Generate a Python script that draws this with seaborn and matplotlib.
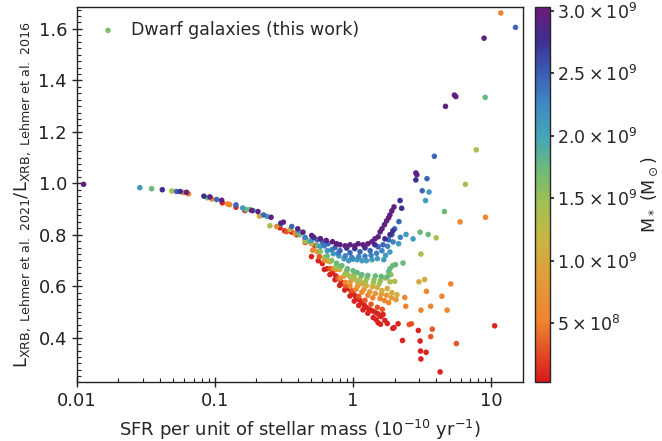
import numpy as np
import pandas as pd
import matplotlib
matplotlib.use('Agg')
import matplotlib.pyplot as plt
import seaborn as sns
from matplotlib.colors import LinearSegmentedColormap, Normalize
from matplotlib.ticker import MultipleLocator, FuncFormatter

# sSFR (1e-10 / yr), L_XRB ratio (2021 / 2016), stellar mass per colour group
purple_x = [0.0112, 0.0623, 0.092, 0.112, 0.185, 0.205, 0.255, 0.313, 0.398, 0.434,
            0.502, 0.58, 0.64, 0.71, 0.76, 0.805, 0.877, 0.951, 1.03, 1.09,
            1.18, 1.28, 1.37, 1.44, 1.52, 1.57, 1.62, 1.69, 1.75, 1.81,
            1.85, 1.91, 1.98, 2.85, 2.90, 4.67, 5.42, 5.55, 8.89]
purple_y = [0.996, 0.965, 0.947, 0.934, 0.894, 0.890, 0.868, 0.849, 0.823, 0.810,
            0.797, 0.785, 0.778, 0.773, 0.765, 0.761, 0.757, 0.761, 0.757, 0.765,
            0.761, 0.765, 0.773, 0.784, 0.792, 0.811, 0.823, 0.839, 0.854, 0.866,
            0.877, 0.893, 0.908, 1.040, 1.033, 1.299, 1.343, 1.337, 1.564]

indigo_x = [0.0416, 0.0561, 0.0832, 0.30, 0.52, 0.90, 1.03, 1.22, 1.44, 1.70, 1.85, 1.94, 2.19, 2.25, 2.85]
indigo_y = [0.975, 0.968, 0.950, 0.845, 0.790, 0.748, 0.746, 0.749, 0.761, 0.784, 0.800, 0.815, 0.933, 0.903, 1.013]

blue_x = [0.0528, 0.103, 0.142, 0.225, 0.36, 0.55, 0.60, 0.66, 0.74, 0.805,
          0.951, 1.124, 1.33, 1.52, 1.65, 1.81, 1.91, 2.00, 2.15, 3.17,
          3.43, 3.88, 15.0]
blue_y = [0.968, 0.937, 0.916, 0.877, 0.832, 0.780, 0.773, 0.765, 0.750, 0.738,
          0.730, 0.734, 0.738, 0.753, 0.761, 0.780, 0.800, 0.823, 0.851, 0.971,
          1.018, 1.105, 1.606]

cblue_x = [0.45, 0.62, 0.70, 0.78, 0.88, 0.98, 1.10, 1.22, 1.35, 1.48, 1.62, 1.78, 1.95, 2.20]
cblue_y = [0.790, 0.757, 0.742, 0.728, 0.718, 0.712, 0.715, 0.717, 0.720, 0.728, 0.738, 0.755, 0.772, 0.790]

teal_x = [0.0286, 0.159, 0.189, 0.239, 0.40, 0.50, 0.58, 0.65, 0.72, 0.79,
          0.86, 0.93, 1.00, 1.07, 1.16, 1.25, 1.37, 1.50, 1.67, 1.72,
          1.85, 2.14, 2.42, 2.72, 3.35, 3.55]
teal_y = [0.983, 0.904, 0.894, 0.871, 0.815, 0.778, 0.755, 0.738, 0.726, 0.718,
          0.707, 0.699, 0.705, 0.703, 0.699, 0.699, 0.703, 0.707, 0.703, 0.720,
          0.733, 0.765, 0.801, 0.784, 0.933, 0.966]

green_x = [0.0348, 0.088, 0.168, 0.179, 0.30, 0.41, 0.48, 0.55, 0.65, 0.76,
           0.83, 0.91, 1.00, 1.07, 1.16, 1.28, 1.45, 1.60, 1.77, 1.81,
           1.85, 1.94, 2.03, 2.30, 3.06, 3.50, 4.59, 9.05]
green_y = [0.979, 0.944, 0.898, 0.898, 0.842, 0.800, 0.775, 0.758, 0.718, 0.689,
           0.680, 0.668, 0.660, 0.653, 0.645, 0.642, 0.640, 0.638, 0.637, 0.657,
           0.668, 0.680, 0.684, 0.690, 0.810, 0.801, 0.890, 1.334]

lime_x = [0.58, 0.70, 0.80, 0.90, 1.02, 1.14, 1.26, 1.42, 1.58, 1.72, 1.88]
lime_y = [0.735, 0.700, 0.675, 0.660, 0.648, 0.638, 0.630, 0.625, 0.622, 0.632, 0.645]

ygreen_x = [0.0488, 0.25, 0.45, 0.62, 0.75, 0.88, 0.95, 1.03, 1.12, 1.23, 1.40, 1.55, 1.85, 2.00, 3.10, 4.00, 6.51, 7.80]
ygreen_y = [0.970, 0.835, 0.775, 0.712, 0.675, 0.649, 0.637, 0.630, 0.622, 0.618, 0.612, 0.610, 0.617, 0.619, 0.725, 0.788, 0.996, 1.130]

yellow_x = [0.21, 0.35, 0.50, 0.68, 0.80, 0.91, 1.00, 1.07, 1.16, 1.25, 1.38, 1.50, 1.62, 1.77, 1.91, 2.08, 3.00, 3.30]
yellow_y = [0.872, 0.820, 0.765, 0.695, 0.665, 0.645, 0.630, 0.618, 0.610, 0.602, 0.598, 0.595, 0.583, 0.591, 0.575, 0.567, 0.617, 0.626]

amber_x = [0.55, 0.66, 0.76, 0.86, 0.96, 1.08, 1.20, 1.32, 1.45, 1.60, 1.75, 1.90, 2.05]
amber_y = [0.735, 0.698, 0.665, 0.640, 0.618, 0.600, 0.588, 0.578, 0.572, 0.568, 0.565, 0.555, 0.548]

orange_x = [0.0594, 0.0644, 0.0952, 0.1235, 0.128, 0.28, 0.38, 0.51, 0.62, 0.72,
            0.805, 0.877, 0.951, 1.05, 1.16, 1.28, 1.39, 1.57, 1.69, 1.81,
            2.37, 2.41, 3.10, 3.40, 3.65, 4.40, 4.80, 5.10, 5.96, 9.10,
            11.75]
orange_y = [0.964, 0.959, 0.939, 0.920, 0.917, 0.832, 0.805, 0.740, 0.700, 0.668,
            0.630, 0.615, 0.600, 0.588, 0.577, 0.565, 0.555, 0.552, 0.544, 0.536,
            0.556, 0.522, 0.507, 0.580, 0.522, 0.561, 0.507, 0.609, 0.850, 0.868,
            1.662]

ored_x = [0.33, 0.45, 0.57, 0.68, 0.78, 0.88, 0.98, 1.10, 1.22, 1.35, 1.50, 1.63, 2.55, 2.65, 3.65, 3.75, 5.60]
ored_y = [0.812, 0.770, 0.715, 0.668, 0.632, 0.602, 0.582, 0.560, 0.545, 0.530, 0.518, 0.510, 0.451, 0.454, 0.404, 0.433, 0.377]

red_x = [0.113, 0.142, 0.165, 0.296, 0.32, 0.36, 0.39, 0.45, 0.49, 0.50,
         0.53, 0.56, 0.60, 0.65, 0.71, 0.75, 0.78, 0.82, 0.85, 0.90,
         0.93, 0.97, 1.00, 1.04, 1.07, 1.12, 1.16, 1.21, 1.25, 1.31,
         1.37, 1.43, 1.50, 1.55, 1.59, 1.65, 1.70, 1.77, 1.94, 1.98,
         2.12, 2.28, 2.97, 3.06, 3.08, 3.38, 3.10, 4.27, 10.6,
         0.62, 0.68, 0.74, 0.80, 0.87, 0.95, 1.02, 1.10, 1.18, 1.28,
         1.40, 1.47, 1.52, 1.58]
red_y = [0.924, 0.907, 0.894, 0.827, 0.815, 0.810, 0.800, 0.784, 0.773, 0.715,
         0.757, 0.699, 0.688, 0.668, 0.653, 0.640, 0.630, 0.618, 0.610, 0.598,
         0.591, 0.580, 0.571, 0.562, 0.552, 0.545, 0.537, 0.525, 0.517, 0.510,
         0.505, 0.500, 0.494, 0.488, 0.482, 0.490, 0.467, 0.455, 0.436, 0.439,
         0.454, 0.389, 0.428, 0.387, 0.348, 0.343, 0.317, 0.267, 0.446,
         0.665, 0.645, 0.625, 0.603, 0.585, 0.562, 0.542, 0.525, 0.508, 0.495,
         0.478, 0.470, 0.458, 0.452]

groups = [(red_x, red_y, 0.08e9), (ored_x, ored_y, 0.30e9), (orange_x, orange_y, 0.55e9),
          (amber_x, amber_y, 0.80e9), (yellow_x, yellow_y, 1.05e9), (ygreen_x, ygreen_y, 1.40e9),
          (lime_x, lime_y, 1.55e9), (green_x, green_y, 1.75e9), (teal_x, teal_y, 2.10e9),
          (cblue_x, cblue_y, 2.30e9), (blue_x, blue_y, 2.45e9), (indigo_x, indigo_y, 2.75e9),
          (purple_x, purple_y, 2.95e9)]

df = pd.concat([pd.DataFrame({'ssfr': gx, 'ratio': gy, 'mstar': m}) for gx, gy, m in groups],
               ignore_index=True)

cbar_ticks = [5e8, 1e9, 1.5e9, 2e9, 2.5e9, 3e9]
cbar_labels = [r'$5\times10^{8}$', r'$1.0\times10^{9}$', r'$1.5\times10^{9}$',
               r'$2.0\times10^{9}$', r'$2.5\times10^{9}$', r'$3.0\times10^{9}$']

sns.set_theme(style='white')
plt.rcParams['font.family'] = ['DejaVu Sans']
plt.rcParams['mathtext.fontset'] = 'dejavusans'
plt.rcParams['mathtext.default'] = 'regular'

cmap = LinearSegmentedColormap.from_list('mass', [
    (0.0, '#d7191c'), (0.16, '#f0832f'), (0.30, '#dea23a'), (0.38, '#c8b643'),
    (0.48, '#9ec152'), (0.57, '#6cb97a'), (0.65, '#44a7b5'), (0.74, '#3f8ac5'),
    (0.83, '#3b5bb3'), (0.91, '#3d2f90'), (1.0, '#6b1b7b')])
norm = Normalize(vmin=3e7, vmax=3.03e9)

fig = plt.figure(figsize=(6.62, 4.41), dpi=100)
ax = fig.add_axes([0.116, 0.134, 0.674, 0.850])
cax = fig.add_axes([0.808, 0.134, 0.023, 0.850])

sns.scatterplot(data=df, x='ssfr', y='ratio', c=df['mstar'], cmap=cmap, norm=norm,
                s=16, linewidth=0, ax=ax, label='Dwarf galaxies (this work)')
ax.set_xscale('log')
ax.set_xlim(0.01, 17)
ax.set_ylim(0.228, 1.685)

ax.xaxis.set_major_formatter(FuncFormatter(lambda v, p: f'{v:g}'))
ax.yaxis.set_major_locator(MultipleLocator(0.2))
ax.yaxis.set_minor_locator(MultipleLocator(0.025))
ax.tick_params(which='major', direction='inout', length=7, width=1, labelsize=13,
               bottom=True, left=True, top=False, right=False, colors='#222222')
ax.tick_params(which='minor', direction='in', length=3, width=0.8,
               bottom=True, left=True, top=False, right=False, colors='#222222')
for sp in ax.spines.values():
    sp.set_color('#222222')
    sp.set_linewidth(1)

ax.set_xlabel(r'SFR per unit of stellar mass ($10^{-10}$ yr$^{-1}$)', fontsize=13, labelpad=6)
ax.set_ylabel(r'L$_{\rm XRB,\ Lehmer\ et\ al.\ 2021}$/L$_{\rm XRB,\ Lehmer\ et\ al.\ 2016}$', fontsize=13)

leg = ax.legend(loc='upper left', frameon=False, fontsize=12.5, handletextpad=0.3,
                borderaxespad=0.4)
for h in leg.legend_handles:
    h.set_array(None)
    h.set_facecolor('#7dbf6c')
    h.set_edgecolor('none')

sm = matplotlib.cm.ScalarMappable(norm=norm, cmap=cmap)
cb = fig.colorbar(sm, cax=cax)
cb.set_ticks(cbar_ticks)
cb.set_ticklabels(cbar_labels)
cb.ax.tick_params(labelsize=12.5, length=3, pad=2)
cb.outline.set_linewidth(1)
cb.set_label(r'M$_*$ (M$_\odot$)', fontsize=12.5, labelpad=2)

fig.savefig('out.png', dpi=100)
